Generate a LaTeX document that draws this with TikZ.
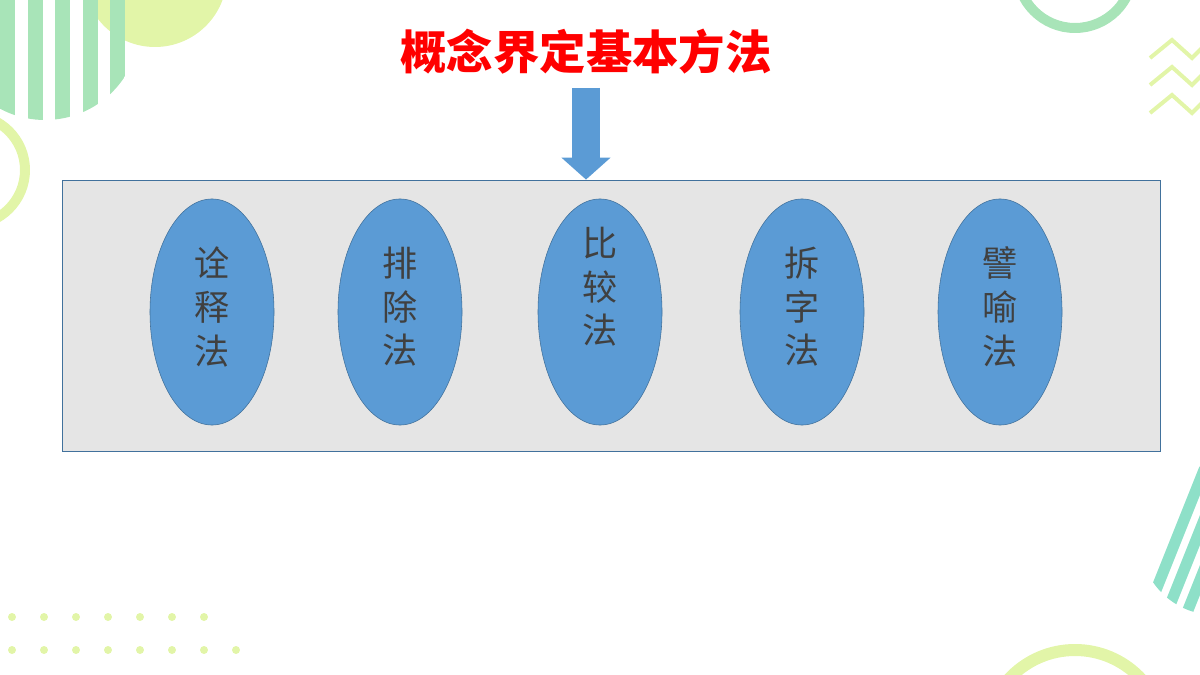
\documentclass[tikz,border=0pt]{standalone}
\usepackage{fontspec}
\newfontfamily\cjk{Noto Sans CJK SC}
\usetikzlibrary{arrows.meta,shapes.geometric}
\definecolor{ovalblue}{HTML}{5B9BD5}
\definecolor{edgeblue}{HTML}{41719C}
\definecolor{lime}{HTML}{E2F5A8}
\definecolor{mint}{HTML}{A8E4B8}
\definecolor{teal}{HTML}{8EE0C8}
\tikzset{
  method/.style={ellipse, fill=ovalblue, draw=edgeblue, minimum width=3.1cm, minimum height=5.65cm, inner sep=0pt},
  glyph/.style={font=\cjk\fontsize{25}{25}\selectfont, text=black!75},
}
\begin{document}
\begin{tikzpicture}[x=0.025cm,y=-0.025cm]
                \useasboundingbox (0,0) rectangle (1200,675);
                \begin{scope}
                \clip (0,0) rectangle (1200,675);
                % decorations
                \fill[lime] (155,-25) circle (72);
                \begin{scope}
                \clip (45,25) circle (95);
                \foreach \x in {0,28,55,83,110}
                    \fill[mint] (\x,-80) rectangle (\x+15,130);
                \end{scope}
                \draw[lime, line width=0.25cm] (-30,170) circle (55);
                \draw[mint, line width=0.25cm] (1075,-30) circle (58);
                \foreach \y in {40,67,95}
                    \draw[lime, line width=0.1cm] (1150,\y+18) -- (1172,\y) -- (1192,\y+18) -- (1210,\y);
                \begin{scope}
                \clip (1215,540) circle (75);
                \foreach \x in {1130,1150,...,1290}
                    \fill[teal] (\x,640) -- (\x+12,640) -- (\x+92,440) -- (\x+80,440) -- cycle;
                \end{scope}
                \draw[lime, line width=0.3cm] (1075,740) circle (90);
                \foreach \x in {0,...,6}
                    \fill[lime] (12+32*\x,617) circle (4);
                \foreach \x in {0,...,7}
                    \fill[lime] (12+32*\x,650) circle (4);
                \end{scope}

                % title and frame
                \node[font=\cjk\bfseries\fontsize{33}{33}\selectfont, text=red] (title) at (586,52) {概念界定基本方法};
                \node[draw=edgeblue, fill=black!10, minimum width=27.45cm, minimum height=6.78cm, inner sep=0pt] (frame) at (611,315.5) {};
                \coordinate (from) at (586,88);
                \draw[ovalblue, line width=0.7cm, -{Triangle[length=0.55cm,width=1.2cm]}] (from) -- (frame.north -| from);

                % methods
                \node[method] (m1) at (212,312) {};
                \node[method] (m2) at (400,312) {};
                \node[method] (m3) at (600,312) {};
                \node[method] (m4) at (802,312) {};
                \node[method] (m5) at (1000,312) {};
                \node[glyph, align=center] at (212,307) {诠\\[6pt]释\\[6pt]法};
                \node[glyph, align=center] at (400,307) {排\\[6pt]除\\[6pt]法};
                \node[glyph, align=center] at (600,287) {比\\[6pt]较\\[6pt]法};
                \node[glyph, align=center] at (802,307) {拆\\[6pt]字\\[6pt]法};
                \node[glyph, align=center] at (1000,307) {譬\\[6pt]喻\\[6pt]法};
            \end{tikzpicture}
\end{document}
